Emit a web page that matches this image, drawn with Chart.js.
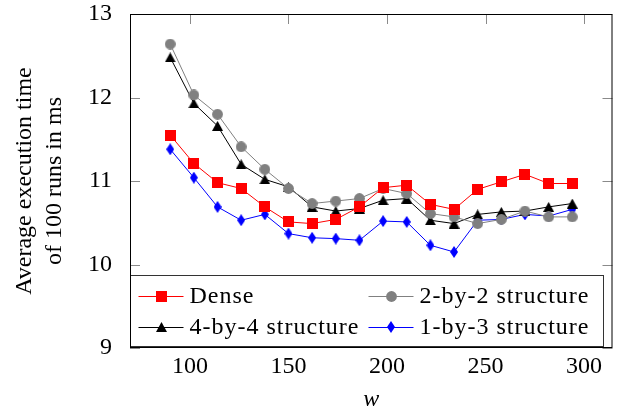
<!DOCTYPE html>
<html>
<head>
<meta charset="utf-8">
<script src="https://cdn.jsdelivr.net/npm/chart.js@4.4.1/dist/chart.umd.min.js"></script>
<style>
  body { margin: 0; background: #fff; }
  #myChart { display: block; }
</style>
</head>
<body>
<canvas id="myChart" width="630" height="412"></canvas>
<script>
// data
var wValues = [90, 102, 114, 126, 138, 150, 162, 174, 186, 198, 210, 222, 234, 246, 258, 270, 282, 294];
var dense = [11.55, 11.21, 10.98, 10.91, 10.69, 10.51, 10.49, 10.54, 10.69, 10.92, 10.95, 10.72, 10.66, 10.90, 10.99, 11.08, 10.97, 10.97];
var twoByTwo = [12.64, 12.03, 11.80, 11.41, 11.14, 10.91, 10.73, 10.76, 10.79, 10.91, 10.85, 10.61, 10.57, 10.49, 10.54, 10.64, 10.57, 10.57];
var fourByFour = [12.48, 11.93, 11.66, 11.20, 11.02, 10.93, 10.69, 10.64, 10.67, 10.77, 10.79, 10.53, 10.49, 10.60, 10.63, 10.64, 10.69, 10.73];
var oneByThree = [11.38, 11.04, 10.69, 10.53, 10.60, 10.37, 10.32, 10.31, 10.29, 10.52, 10.51, 10.23, 10.15, 10.53, 10.54, 10.60, 10.58, 10.66];
var seriesNames = ["Dense", "2-by-2 structure", "4-by-4 structure", "1-by-3 structure"];
var xTicks = [100, 150, 200, 250, 300];
var yTicks = [9, 10, 11, 12, 13];

var FONT = "'Liberation Serif', 'DejaVu Serif', serif";

// marker images (pgfplots style marks)
function makeMark(kind, color) {
  var c = document.createElement("canvas");
  var g;
  if (kind == "square") { c.width = 11; c.height = 11; }
  else if (kind == "circle") { c.width = 11; c.height = 11; }
  else if (kind == "triangle") { c.width = 11; c.height = 10; }
  else { c.width = 8; c.height = 12; }
  g = c.getContext("2d");
  g.fillStyle = color;
  g.beginPath();
  if (kind == "square") {
    g.rect(0, 0, 11, 11);
  } else if (kind == "circle") {
    g.arc(5.5, 5.5, 5.4, 0, Math.PI * 2);
  } else if (kind == "triangle") {
    g.moveTo(5.5, 0); g.lineTo(11, 10); g.lineTo(0, 10); g.closePath();
  } else {
    g.moveTo(4, 0); g.lineTo(8, 6); g.lineTo(4, 12); g.lineTo(0, 6); g.closePath();
  }
  g.fill();
  return c;
}

function toPoints(ys) {
  var pts = [];
  for (var i = 0; i < wValues.length; i++) pts.push({ x: wValues[i], y: ys[i] });
  return pts;
}

var colors = ["#ff0000", "#808080", "#000000", "#0000ff"];
var marks = [makeMark("square", colors[0]), makeMark("circle", colors[1]), makeMark("triangle", colors[2]), makeMark("diamond", colors[3])];
var allSeries = [dense, twoByTwo, fourByFour, oneByThree];

var datasets = [];
for (var i = 0; i < allSeries.length; i++) {
  datasets.push({
    label: seriesNames[i],
    data: toPoints(allSeries[i]),
    borderColor: colors[i],
    backgroundColor: colors[i],
    borderWidth: 1,
    pointStyle: marks[i],
    pointRadius: 5,
    tension: 0
  });
}

// frame + inward ticks on all four sides
var framePlugin = {
  id: "frame",
  beforeDatasetsDraw: function (chart) {
    var ctx = chart.ctx, a = chart.chartArea, x = chart.scales.x, y = chart.scales.y;
    ctx.save();
    ctx.strokeStyle = "#8a8a8a";
    ctx.lineWidth = 1;
    ctx.beginPath();
    x.ticks.forEach(function (t) {
      var px = Math.round(x.getPixelForValue(t.value)) + 0.5;
      ctx.moveTo(px, a.bottom); ctx.lineTo(px, a.bottom - 10);
      ctx.moveTo(px, a.top); ctx.lineTo(px, a.top + 10);
    });
    y.ticks.forEach(function (t) {
      var py = Math.round(y.getPixelForValue(t.value)) + 0.5;
      ctx.moveTo(a.left, py); ctx.lineTo(a.left + 10, py);
      ctx.moveTo(a.right, py); ctx.lineTo(a.right - 10, py);
    });
    ctx.stroke();
    ctx.restore();
  },
  afterDatasetsDraw: function (chart) {
    var ctx = chart.ctx, a = chart.chartArea;
    ctx.save();
    // legend box, lower left
    var bx = a.left, by = a.bottom - 73, bw = a.width - 8.5, bh = 72;
    ctx.fillStyle = "#fff";
    ctx.fillRect(bx, by, bw, bh);
    ctx.strokeStyle = "#333";
    ctx.lineWidth = 1;
    ctx.strokeRect(bx + 0.5, by + 0.5, bw - 1, bh - 1);
    var rows = [a.bottom - 52.5, a.bottom - 21.5];
    var cols = [a.left + 8.5, a.left + 238.5];
    ctx.font = "24px " + FONT;
    ctx.letterSpacing = "1px";
    ctx.textBaseline = "middle";
    ctx.textAlign = "left";
    chart.data.datasets.forEach(function (ds, k) {
      var lx = cols[k % 2], ly = rows[Math.floor(k / 2)];
      ctx.strokeStyle = ds.borderColor;
      ctx.beginPath();
      ctx.moveTo(lx, Math.round(ly) + 0.5); ctx.lineTo(lx + 45, Math.round(ly) + 0.5);
      ctx.stroke();
      var m = ds.pointStyle;
      ctx.drawImage(m, Math.round(lx + 22.5 - m.width / 2), Math.round(ly - m.height / 2 + 0.5));
      ctx.fillStyle = "#000";
      ctx.fillText(ds.label, lx + 51, ly + 1);
    });
    // axis frame
    ctx.strokeStyle = "#000";
    ctx.strokeRect(a.left + 0.5, a.top + 0.5, a.width - 1, a.height - 1);
    ctx.restore();
  }
};

new Chart("myChart", {
  type: "line",
  data: { datasets: datasets },
  options: {
    responsive: false,
    animation: false,
    layout: { padding: { top: 14, right: 17.5, left: 0, bottom: 0 } },
    plugins: { legend: { display: false }, tooltip: { enabled: false } },
    scales: {
      x: {
        type: "linear",
        min: 69.6,
        max: 314.4,
        afterBuildTicks: function (s) { s.ticks = xTicks.map(function (v) { return { value: v }; }); },
        afterFit: function (s) { s.height = 64; s.paddingLeft = 0; s.paddingRight = 0; },
        grid: { display: false },
        border: { display: false },
        ticks: { color: "#000", padding: -4, font: { family: FONT, size: 24 } },
        title: {
          display: true, text: "w", color: "#000",
          font: { family: FONT, size: 24, style: "italic", lineHeight: 1 },
          padding: { top: 0, bottom: 0 }
        }
      },
      y: {
        min: 9,
        max: 13,
        afterBuildTicks: function (s) { s.ticks = yTicks.map(function (v) { return { value: v }; }); },
        afterFit: function (s) { s.width = 130; s.paddingTop = 0; s.paddingBottom = 0; },
        grid: { display: false },
        border: { display: false },
        ticks: { color: "#000", padding: 10, font: { family: FONT, size: 24 } },
        title: {
          display: true, text: ["Average execution time", "of 100 runs in ms"], color: "#000",
          font: { family: FONT, size: 24, lineHeight: 1.25 },
          padding: { top: 10, bottom: 0 }
        }
      }
    }
  },
  plugins: [framePlugin]
});
</script>
</body>
</html>
